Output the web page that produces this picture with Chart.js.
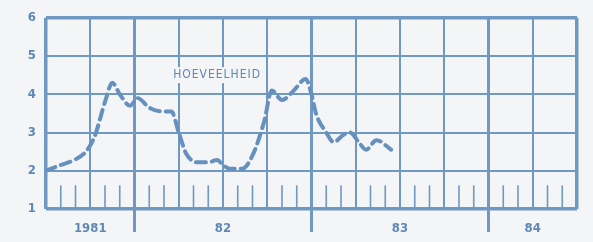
<!DOCTYPE html>
<html lang="nl">
<head>
    <meta charset="UTF-8">
    <title>Hoeveelheid 1981-84</title>
    <style>
        html, body {
            margin: 0;
            padding: 0;
            background: #f3f5f6;
        }
        .wrap {
            width: 593px;
            height: 242px;
        }
    </style>
</head>
<body>
    <div class="wrap">
        <canvas id="chart" width="593" height="242"></canvas>
    </div>

    <script src="https://cdn.jsdelivr.net/npm/chart.js"></script>
    <script>
        // maanden vanaf juli 1981
        const months = [0, 1, 2, 2.7, 3.3, 4.0, 4.5, 5.0, 5.7, 6.2, 7.0, 7.9, 8.5, 9.0, 9.5,
            10.3, 11.0, 11.6, 12.0, 12.5, 13.3, 14.0, 14.8, 15.3, 16.0, 16.8, 17.6, 18.0,
            18.3, 19.0, 19.5, 20.2, 20.6, 21.2, 21.7, 22.4, 23.4];
        const values = [2.0, 2.15, 2.3, 2.5, 2.9, 3.8, 4.3, 4.0, 3.7, 3.9, 3.65, 3.55, 3.55, 3.0, 2.45,
            2.22, 2.22, 2.28, 2.15, 2.05, 2.05, 2.4, 3.3, 4.1, 3.85, 4.1, 4.4, 4.0,
            3.5, 3.0, 2.75, 2.95, 3.0, 2.75, 2.55, 2.8, 2.55];
        const yearTicks = [3, 12, 24, 33];
        const yearLabels = ['1981', '82', '83', '84'];
        const yearBounds = [6, 18, 30];
        const seriesLabel = 'HOEVEELHEID';

        const blue = '#6f98c2';
        const lineBlue = '#6690bd';
        const textBlue = '#5f88b4';
        const font = "'DejaVu Sans Condensed', sans-serif";

        const extras = {
            id: 'extras',
            beforeDatasetsDraw(chart) {
                const { ctx, scales: { x, y }, chartArea } = chart;
                ctx.save();
                ctx.strokeStyle = blue;
                // kleine maandstreepjes
                ctx.lineWidth = 1.6;
                for (let m = 1; m < 36; m++) {
                    if (m % 3 === 0) continue;
                    const px = x.getPixelForValue(m);
                    ctx.beginPath();
                    ctx.moveTo(px, y.getPixelForValue(1));
                    ctx.lineTo(px, y.getPixelForValue(1.62));
                    ctx.stroke();
                }
                // jaargrenzen lopen door onder de as
                ctx.lineWidth = 3;
                yearBounds.forEach(m => {
                    const px = x.getPixelForValue(m);
                    ctx.beginPath();
                    ctx.moveTo(px, chartArea.top);
                    ctx.lineTo(px, chartArea.bottom + 23);
                    ctx.stroke();
                });
                // label
                ctx.font = "12px " + font;
                ctx.letterSpacing = '1px';
                ctx.textAlign = 'center';
                ctx.textBaseline = 'middle';
                const lx = x.getPixelForValue(11.6);
                const ly = y.getPixelForValue(4.5);
                const w = ctx.measureText(seriesLabel).width;
                ctx.fillStyle = '#f3f5f6';
                ctx.fillRect(lx - w / 2 - 3, ly - 8, w + 6, 16);
                ctx.fillStyle = textBlue;
                ctx.fillText(seriesLabel, lx, ly);
                ctx.restore();
            }
        };

        new Chart(document.getElementById('chart'), {
            type: 'line',
            data: {
                datasets: [{
                    label: seriesLabel,
                    data: months.map((m, i) => ({ x: m, y: values[i] })),
                    borderColor: lineBlue,
                    borderWidth: 4,
                    borderDash: [10, 6],
                    borderCapStyle: 'round',
                    pointRadius: 0,
                    cubicInterpolationMode: 'monotone',
                    fill: false
                }]
            },
            options: {
                responsive: false,
                animation: false,
                layout: { padding: { top: 14, right: 16, left: 0, bottom: 0 } },
                plugins: {
                    legend: { display: false },
                    tooltip: { enabled: false }
                },
                scales: {
                    x: {
                        type: 'linear',
                        min: 0,
                        max: 36,
                        afterBuildTicks: axis => {
                            axis.ticks = [];
                            for (let m = 0; m <= 36; m += 3) axis.ticks.push({ value: m });
                        },
                        afterFit: axis => { axis.height = 33; },
                        border: { display: false },
                        grid: {
                            color: blue,
                            drawTicks: false,
                            lineWidth: c => (c.tick.value === 0 || c.tick.value === 36) ? 3.5 : 2
                        },
                        ticks: {
                            autoSkip: false,
                            maxRotation: 0,
                            padding: 12,
                            color: textBlue,
                            font: { family: font, size: 13, weight: 'bold' },
                            callback: v => {
                                const i = yearTicks.indexOf(v);
                                return i >= 0 ? yearLabels[i] : '';
                            }
                        }
                    },
                    y: {
                        min: 1,
                        max: 6,
                        afterFit: axis => { axis.width = 46; },
                        border: { display: false },
                        grid: {
                            color: blue,
                            drawTicks: false,
                            lineWidth: c => (c.tick.value === 1 || c.tick.value === 6) ? 3.5 : 2
                        },
                        ticks: {
                            stepSize: 1,
                            padding: 10,
                            color: textBlue,
                            font: { family: font, size: 13, weight: 'bold' }
                        }
                    }
                }
            },
            plugins: [extras]
        });
    </script>
</body>
</html>
